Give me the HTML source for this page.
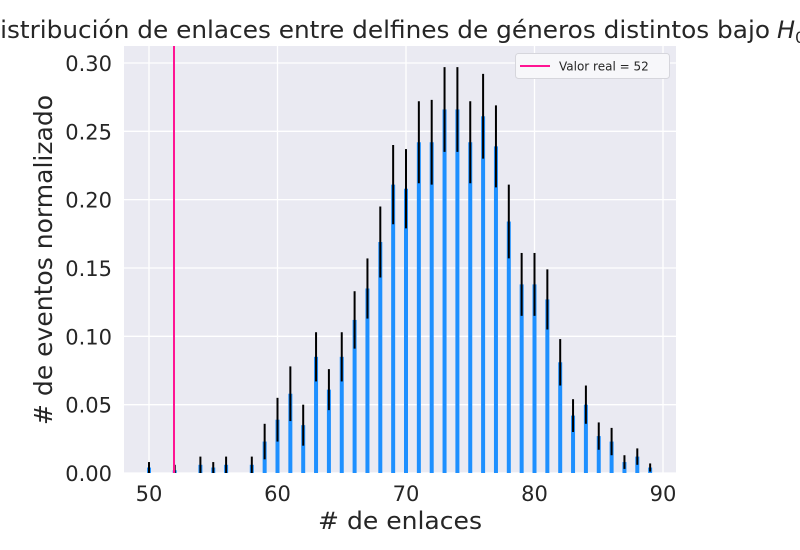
<!DOCTYPE html>
<html><head><meta charset="utf-8"><style>
html,body{margin:0;padding:0;background:#fff;}
svg{display:block;font-family:"DejaVu Sans","Liberation Sans",sans-serif;}
</style></head><body>
<svg id="chart" width="800" height="550" viewBox="0 0 800 550">
<text x="-19" y="38" font-size="24" fill="#262626"><tspan textLength="789" lengthAdjust="spacingAndGlyphs">Distribución de enlaces entre delfines de géneros distintos bajo</tspan><tspan x="777" font-style="italic">H</tspan><tspan font-size="16" dy="5">0</tspan></text>
<rect x="124" y="46" width="552" height="427" fill="#eaeaf2"/>
<g id="grid"></g><g id="bars"></g><g id="errs"></g><g id="ticks"></g>
<line x1="174" y1="46" x2="174" y2="473" stroke="#ff1493" stroke-width="2"/>
<g>
<rect x="515.5" y="53.5" width="154" height="25" rx="3" fill="#f7f7fa" stroke="#d6d6dc"/>
<line x1="520" y1="66" x2="550" y2="66" stroke="#ff1493" stroke-width="2"/>
<text x="559" y="70.5" font-size="12" fill="#262626">Valor real = 52</text>
</g>
<text x="400" y="529" font-size="24" fill="#262626" text-anchor="middle" textLength="164" lengthAdjust="spacingAndGlyphs"># de enlaces</text>
<text transform="translate(52,260) rotate(-90)" font-size="25" fill="#262626" text-anchor="middle" textLength="330" lengthAdjust="spacingAndGlyphs"># de eventos normalizado</text>
</svg>
<script>
const categories=[50,52,54,55,56,58,59,60,61,62,63,64,65,66,67,68,69,70,71,72,73,74,75,76,77,78,79,80,81,82,83,84,85,86,87,88,89];
const values=[0.004,0.002,0.006,0.004,0.006,0.006,0.023,0.039,0.058,0.035,0.085,0.061,0.085,0.112,0.135,0.169,0.211,0.208,0.242,0.242,0.266,0.266,0.242,0.261,0.239,0.184,0.138,0.138,0.127,0.081,0.042,0.050,0.027,0.023,0.008,0.012,0.004];
const errors=[0.004,0.004,0.006,0.004,0.006,0.006,0.013,0.016,0.020,0.015,0.018,0.015,0.018,0.021,0.022,0.026,0.029,0.029,0.030,0.031,0.031,0.031,0.030,0.031,0.030,0.027,0.023,0.023,0.022,0.017,0.012,0.014,0.010,0.010,0.005,0.006,0.003];
const xTicks=[50,60,70,80,90];
const yTicks=[0,0.05,0.10,0.15,0.20,0.25,0.30];
const yTickLabels=["0.00","0.05","0.10","0.15","0.20","0.25","0.30"];
const NS="http://www.w3.org/2000/svg";
const X=v=>149+(v-50)*12.85;
const Y=v=>473-v*1366.7;
function mk(tag,attrs,parent){const e=document.createElementNS(NS,tag);for(const k in attrs)e.setAttribute(k,attrs[k]);document.getElementById(parent).appendChild(e);return e;}
xTicks.forEach(t=>{
 const g=mk('line',{x1:X(t),x2:X(t),y1:46,y2:473,stroke:'#fff','stroke-width':1.3},'grid');
 
 
 const l=mk('text',{x:X(t),y:501,'font-size':21,fill:'#262626','text-anchor':'middle'},'ticks');
 l.textContent=t;
 
 
});
yTicks.forEach((t,i)=>{
 const g=mk('line',{x1:124,x2:676,y1:Y(t),y2:Y(t),stroke:'#fff','stroke-width':1.3},'grid');
 
 
 const l=mk('text',{x:112,y:Y(t)+8,'font-size':21,fill:'#262626','text-anchor':'end'},'ticks');
 l.textContent=yTickLabels[i];
 
 
});
categories.forEach((c,i)=>{
 const b=mk('rect',{x:X(c)-2,y:Y(values[i]),width:4,height:473-Y(values[i]),fill:'#1e90ff'},'bars');
 
 
 const e=mk('line',{x1:X(c),x2:X(c),y1:Y(values[i]+errors[i]),y2:Math.min(473,Y(values[i]-errors[i])),stroke:'#000','stroke-width':2},'errs');
 
 
});
</script>
</body></html>
